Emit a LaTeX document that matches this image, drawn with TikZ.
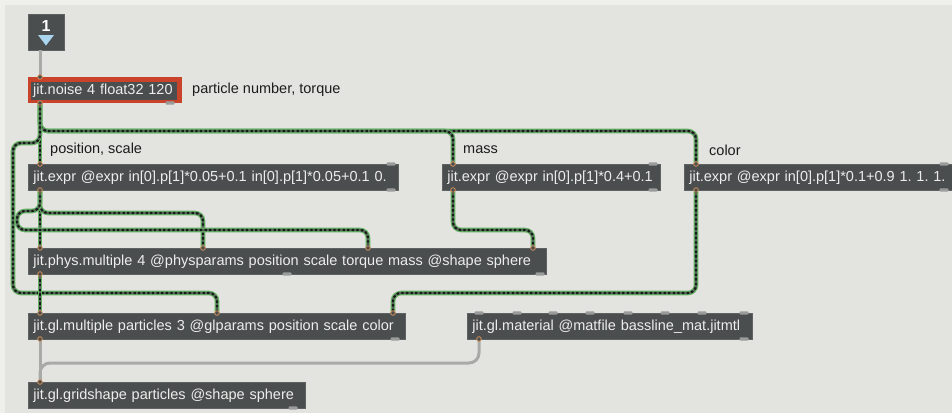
\documentclass[tikz,border=0pt]{standalone}
\usepackage{fontspec}
\setmainfont{Liberation Sans}
\frenchspacing
\definecolor{canvas}{HTML}{E3E3DF}
\definecolor{rim}{HTML}{EFEFEC}
\definecolor{objfill}{HTML}{4B4E4E}
\definecolor{objedge}{HTML}{5F6262}
\definecolor{objtext}{HTML}{EDEDED}
\definecolor{noisered}{HTML}{C8432A}
\definecolor{tabgray}{HTML}{9A9C9C}
\definecolor{ringorange}{HTML}{D8925C}
\definecolor{sigedge}{HTML}{66B266}
\definecolor{sigcore}{HTML}{56665A}
\definecolor{sigdot}{HTML}{141A14}
\definecolor{ctlgray}{HTML}{A9A9A7}
\definecolor{msgblue}{HTML}{A9D6EE}
\definecolor{labeltext}{HTML}{1C1C1C}

\newcommand\porttab[2]{\fill[tabgray,rounded corners=1pt] (#1-4.5,#2-1.6) rectangle (#1+4.5,#2+1.6);}
\newcommand\portring[2]{\draw[ringorange,line width=0.8pt,fill=objfill] (#1,#2) circle (2.3pt);}

\tikzset{
  obj/.style={draw=objedge, line width=0.8pt, fill=objfill, anchor=north west,
    minimum height=26pt, inner xsep=5pt, inner ysep=0pt, align=left,
    text=objtext, font=\fontsize{14.5}{16}\selectfont\frenchspacing},
  cmt/.style={anchor=west, inner sep=0pt, text=labeltext, font=\fontsize{14.5}{16}\selectfont},
  sig/.style={line width=4.6pt, draw=sigedge, rounded corners=8pt,
    postaction={draw=sigcore, line width=2.2pt},
    postaction={draw=sigdot, line width=2.2pt, dash pattern=on 2.3pt off 2.3pt}},
  ctl/.style={line width=3pt, draw=ctlgray, rounded corners=10pt},
}

\begin{document}
\begin{tikzpicture}[x=1pt,y=-1pt]
\useasboundingbox (0,0) rectangle (952,413);
\fill[canvas] (0,0) rectangle (952,413);
\fill[rim] (0,0) rectangle (952,5);
\fill[rim] (0,0) rectangle (5,413);

% message box with its trigger arrow
\node[draw=objedge, fill=objfill, anchor=north west, minimum width=36pt, minimum height=36pt, inner sep=0pt] (msg) at (28,14) {};
\node[text=white, font=\bfseries\fontsize{16}{16}\selectfont, inner sep=0pt] (msgnum) at (46,25.5) {1};
\fill[msgblue] (38,35) -- (54,35) -- (46,45.5) -- cycle;

% noise generator (highlighted in red)
\node[fill=noisered, anchor=north west, minimum width=154pt, minimum height=26pt, inner sep=0pt] (noise) at (28,77) {};
\node[fill=objfill, anchor=north west, minimum width=146pt, minimum height=18pt, inner xsep=2pt, inner ysep=0pt,
      text=objtext, font=\fontsize{14.5}{16}\selectfont, text width=142pt, align=left] (noisetxt) at (31,82) {jit.noise 4 float32 120};
\node[cmt] (lblnoise) at (192,90) {particle number, torque};

% expression objects
\node[cmt] (lblpos) at (50,150) {position, scale};
\node[cmt] (lblmass) at (463,150) {mass};
\node[cmt] (lblcolor) at (709,150) {color};
\node[obj, minimum width=370pt, text width=360pt] (expra) at (28,164) {jit.expr @expr in[0].p[1]*0.05+0.1 in[0].p[1]*0.05+0.1 0.};
\node[obj, minimum width=218pt, text width=208pt] (exprm) at (442,164) {jit.expr @expr in[0].p[1]*0.4+0.1};
\node[obj, minimum width=266pt, text width=270pt] (exprc) at (684,164) {jit.expr @expr in[0].p[1]*0.1+0.9 1. 1. 1.};

% physics and rendering objects
\node[obj, minimum width=518pt, text width=508pt] (phys) at (28,248) {jit.phys.multiple 4 @physparams position scale torque mass @shape sphere};
\node[obj, minimum width=377pt, text width=367pt] (glmult) at (28,313) {jit.gl.multiple particles 3 @glparams position scale color};
\node[obj, minimum width=285pt, text width=275pt] (glmat) at (467,313) {jit.gl.material @matfile bassline\_mat.jitmtl};
\node[obj, minimum width=277pt, text width=267pt] (grid) at (28,382) {jit.gl.gridshape particles @shape sphere};

% ports
\coordinate (msg-o) at ([xshift=12pt]msg.south west);
\coordinate (noise-i) at ([xshift=12pt]noise.north west);
\coordinate (noise-o) at ([xshift=12pt]noise.south west);
\coordinate (expra-i) at ([xshift=12pt]expra.north west);
\coordinate (expra-o) at ([xshift=12pt]expra.south west);
\coordinate (exprm-i) at ([xshift=11pt]exprm.north west);
\coordinate (exprm-o) at ([xshift=11pt]exprm.south west);
\coordinate (exprc-i) at ([xshift=12pt]exprc.north west);
\coordinate (exprc-o) at ([xshift=12pt]exprc.south west);
\coordinate (phys-i1) at ([xshift=12pt]phys.north west);
\coordinate (phys-i2) at ([xshift=175pt]phys.north west);
\coordinate (phys-i3) at ([xshift=340pt]phys.north west);
\coordinate (phys-i4) at ([xshift=505pt]phys.north west);
\coordinate (phys-o) at ([xshift=12pt]phys.south west);
\coordinate (glmult-i1) at ([xshift=12pt]glmult.north west);
\coordinate (glmult-i2) at ([xshift=189pt]glmult.north west);
\coordinate (glmult-i3) at ([xshift=365pt]glmult.north west);
\coordinate (glmult-o) at ([xshift=12pt]glmult.south west);
\coordinate (glmat-o) at ([xshift=12pt]glmat.south west);
\coordinate (grid-i) at ([xshift=12pt]grid.north west);

% unconnected port tabs
\porttab{170}{103}
\porttab{391}{164}\porttab{391}{190}
\porttab{653}{164}\porttab{653}{190}
\porttab{944}{164}\porttab{944}{190}
\porttab{287}{274}\porttab{540}{274}
\porttab{395}{339}
\porttab{517}{313}\porttab{553}{313}\porttab{590}{313}\porttab{628}{313}
\porttab{665}{313}\porttab{702}{313}\porttab{744}{313}\porttab{744}{339}
\porttab{479}{313}
\porttab{293}{408}

% control cords
\draw[ctl] (msg-o) -- (noise-i);
\draw[ctl] (glmult-o) -- (grid-i);
\draw[ctl] (glmat-o) -- (479,363) -- (40,363) -- (grid-i);

% signal (matrix) cords
\draw[sig] (noise-o) -- (expra-i);
\draw[sig] (noise-o) -- (40,131) -- (696,131) -- (exprc-i);
\draw[sig] (noise-o) -- (40,131) -- (453,131) -- (exprm-i);
\draw[sig] (noise-o) -- (40,143) -- (13,143) -- (13,293) -- (217,293) -- (glmult-i2);
\draw[sig] (expra-o) -- (phys-i1);
\draw[sig] (expra-o) -- (40,213) -- (203,213) -- (phys-i2);
\draw[sig] (expra-o) -- (40,211) -- (17,211) -- (17,230) -- (368,230) -- (phys-i3);
\draw[sig] (exprm-o) -- (453,230) -- (533,230) -- (phys-i4);
\draw[sig] (phys-o) -- (glmult-i1);
\draw[sig] (exprc-o) -- (696,293) -- (393,293) -- (glmult-i3);

% connected port rings
\portring{40}{77}\portring{40}{103}
\portring{40}{164}\portring{40}{190}
\portring{453}{164}\portring{453}{190}
\portring{696}{164}\portring{696}{190}
\portring{40}{248}\portring{203}{248}\portring{368}{248}\portring{533}{248}\portring{40}{274}
\portring{40}{313}\portring{217}{313}\portring{393}{313}\portring{40}{339}
\portring{479}{339}\portring{40}{382}
\end{tikzpicture}
\end{document}
